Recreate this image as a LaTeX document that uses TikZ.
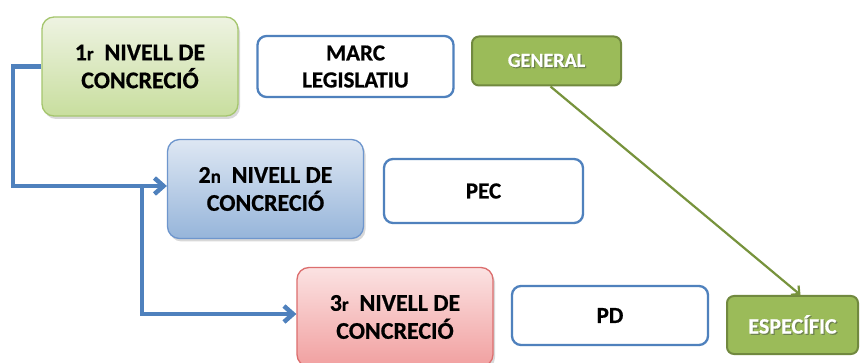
\documentclass[tikz,border=0pt]{standalone}
\usepackage{fontspec}
\setmainfont{Carlito}[BoldFeatures={FakeBold=0.6}]
\usetikzlibrary{arrows.meta,shadows}
\definecolor{lvlblue}{RGB}{79,129,189}
\definecolor{gfill}{RGB}{155,187,89}
\definecolor{gdraw}{RGB}{113,137,63}
\definecolor{garrow}{RGB}{119,147,60}
\definecolor{tshadow}{RGB}{110,130,80}
\newcommand{\shadowtext}[1]{\rlap{\hspace{1.2pt}\raisebox{-1.2pt}{\textcolor{tshadow}{#1}}}#1}
\newcommand{\ordsm}[1]{{\fontsize{19}{20}\selectfont #1}}
\tikzset{
  x=1pt,y=1pt,
  lvl/.style={rounded corners=12pt, line width=1.3pt, align=center, inner sep=0pt,
     minimum width=196pt, minimum height=99pt, font=\bfseries\fontsize{24}{28}\selectfont,
     drop shadow={shadow xshift=2pt, shadow yshift=-3pt, opacity=0.25, fill=black!60}},
  lvlA/.style={lvl, draw={rgb,255:red,165;green,198;blue,110}, top color={rgb,255:red,238;green,243;blue,226}, bottom color={rgb,255:red,200;green,222;blue,158}},
  lvlB/.style={lvl, draw={rgb,255:red,110;green,150;blue,205}, top color={rgb,255:red,222;green,231;blue,243}, bottom color={rgb,255:red,150;green,181;blue,218}},
  lvlC/.style={lvl, draw={rgb,255:red,220;green,110;blue,110}, top color={rgb,255:red,251;green,226;blue,226}, bottom color={rgb,255:red,241;green,160;blue,160}},
  docbox/.style={rounded corners=9pt, draw=lvlblue, line width=2.3pt, fill=white, align=center,
     inner sep=0pt, font=\bfseries\fontsize{23}{27}\selectfont},
  tagbox/.style={rounded corners=7pt, draw=gdraw, line width=2pt, fill=gfill, text=white,
     inner sep=0pt, font=\bfseries\fontsize{20}{24}\selectfont},
  flow/.style={draw=lvlblue, line width=4.5pt, -{Straight Barb[length=9pt,width=16pt,line width=4.5pt]}},
  spec/.style={draw=garrow, line width=2.2pt, -{Straight Barb[length=6pt,width=12pt,line width=2.2pt]}}
}
\begin{document}
\begin{tikzpicture}
\useasboundingbox[fill=white] (0,0) rectangle (862,-363);
\node[lvlA] (n1) at (140,-66.5) {1\ordsm{r}\ \ NIVELL DE\\CONCRECIÓ};
\node[lvlB] (n2) at (265.5,-189) {2\ordsm{n}\ \ NIVELL DE\\CONCRECIÓ};
\node[lvlC] (n3) at (395,-317) {3\ordsm{r}\ \ NIVELL DE\\CONCRECIÓ};
\node[docbox, minimum width=196pt, minimum height=61pt] (marc) at (355.5,-66.5) {MARC\\LEGISLATIU};
\node[docbox, minimum width=199pt, minimum height=64pt] (pec) at (483.5,-191) {PEC};
\node[docbox, minimum width=196pt, minimum height=59pt] (pd) at (610,-315.5) {PD};
\node[tagbox, minimum width=149pt, minimum height=49pt] (gen) at (546.5,-61) {\shadowtext{GENERAL}};
\node[tagbox, minimum width=131pt, minimum height=58pt, font=\bfseries\fontsize{22}{26}\selectfont] (esp) at (792.5,-325) {\shadowtext{ESPECÍFIC}};
\coordinate (c1) at (13,-66.5);
\coordinate (c2) at (13,-186);
\coordinate (c3) at (142,-186);
\coordinate (c4) at (142,-314);
\draw[flow] (n1.west) -- (c1) -- (c2) -- (n2.west |- c2);
\draw[flow] (c3) -- (c4) -- (n3.west |- c4);
\draw[spec] ([xshift=4pt]gen.south) -- ([xshift=8pt]esp.north);
\end{tikzpicture}
\end{document}
